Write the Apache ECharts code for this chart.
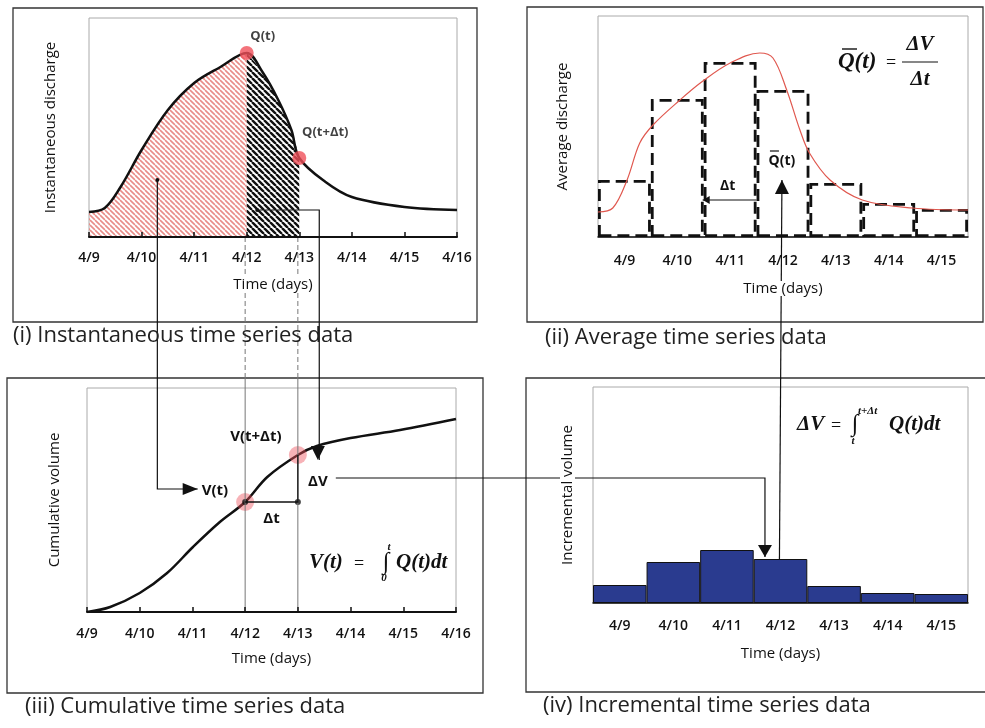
<!DOCTYPE html>
<html>
<head>
<meta charset="utf-8">
<script src="https://cdn.jsdelivr.net/npm/echarts@6/dist/echarts.min.js"></script>
<style>
  html, body { margin: 0; padding: 0; background: #fff; }
  #chart { width: 985px; height: 728px; }
</style>
</head>
<body>
<div id="chart"></div>
<script>
// time axis: days counted from 4/9
const dayCats = ['4/9', '4/10', '4/11', '4/12', '4/13', '4/14', '4/15'];

// (i) instantaneous discharge
const instDays = [0, 0.3, 0.6, 1, 1.5, 2, 2.5, 3, 3.3, 3.6, 3.85, 4, 4.5, 5, 6, 7];
const instQ = [25, 29, 50, 87, 127, 154, 170, 184, 165, 137, 107, 79, 55, 40, 30, 27];
const instMarks = [[3, 184], [4, 79]];

// (ii) average discharge per day + the thin red curve behind it
const avgVals = [57, 138, 175, 147, 54, 34, 28];
const avgCurveDays = [0, 0.28, 0.55, 0.79, 1.04, 1.55, 1.96, 2.5, 3.06, 3.31, 3.57, 3.82, 4.0, 4.39, 5.0, 5.95, 7.0];
const avgCurveVals = [25, 29, 57, 94, 112, 137, 155, 174, 184, 179, 147, 107, 84, 57, 37, 29, 27];

// (iii) cumulative volume
const cumDays = [0, 0.44, 1.0, 1.52, 2.01, 2.52, 3.0, 3.42, 4.0, 4.36, 5.0, 5.94, 7.0];
const cumVals = [0, 5, 19, 39, 65, 90, 110, 135, 157, 166, 174, 182, 193];
const cumMarks = [[3, 110], [4, 157]];

// (iv) incremental volume per day
const incVals = [18, 41, 53, 44, 17, 10, 9];

const instPairs = instDays.map((d, i) => [d, instQ[i]]);
const avgCurve = avgCurveDays.map((d, i) => [d, avgCurveVals[i]]);
const cumPairs = cumDays.map((d, i) => [d, cumVals[i]]);

function hatch(color, gap, width) {
  const c = document.createElement('canvas');
  c.width = gap; c.height = gap;
  const g = c.getContext('2d');
  g.strokeStyle = color;
  g.lineWidth = width;
  g.beginPath();
  for (let k = -1; k <= 1; k++) {
    g.moveTo(k * gap, 0);
    g.lineTo(k * gap + gap, gap);
  }
  g.stroke();
  return c;
}
const redHatch = hatch('#e98c88', 5, 1.6);
const darkHatch = hatch('#111', 6, 2.4);

const FONT = '"Open Sans", "Noto Sans", sans-serif';
const SERIF = '"Liberation Serif", "DejaVu Serif", serif';

function nameStyle() {
  return { fontFamily: FONT, fontSize: 15, color: '#111', backgroundColor: '#fff' };
}
function dayAxis(grid, gap, margin) {
  return {
    type: 'value', gridIndex: grid, min: 0, max: 7, interval: 1,
    name: 'Time (days)', nameLocation: 'middle', nameGap: gap, z: 20,
    nameTextStyle: nameStyle(),
    axisLine: { lineStyle: { color: '#111', width: 2 } },
    axisTick: { inside: true, length: 5, lineStyle: { color: '#111', width: 1.5 } },
    axisLabel: { formatter: v => '4/' + (9 + v), fontFamily: FONT, fontSize: 14, fontWeight: 600, color: '#111', margin: margin },
    splitLine: { show: false }
  };
}
function catAxis(grid, gap, margin) {
  return {
    type: 'category', gridIndex: grid, data: dayCats,
    name: 'Time (days)', nameLocation: 'middle', nameGap: gap, z: 20,
    nameTextStyle: nameStyle(),
    axisLine: { lineStyle: { color: '#111', width: 1.5 } },
    axisTick: { inside: true, length: 5, lineStyle: { color: '#111', width: 1.5 } },
    axisLabel: { fontFamily: FONT, fontSize: 14, fontWeight: 600, color: '#111', margin: margin },
    splitLine: { show: false }
  };
}
function hiddenDays(grid) {
  return { type: 'value', gridIndex: grid, min: 0, max: 7, show: false };
}
function vAxis(grid, max, name, gap) {
  return {
    type: 'value', gridIndex: grid, min: 0, max: max,
    name: name, nameLocation: 'middle', nameGap: gap, z: 20,
    nameTextStyle: nameStyle(),
    axisLine: { show: false }, axisTick: { show: false },
    axisLabel: { show: false }, splitLine: { show: false }
  };
}

const gridStyle = { show: true, borderColor: '#aaa', borderWidth: 1 };

const chart = echarts.init(document.getElementById('chart'));

chart.setOption({
  animation: false,
  backgroundColor: '#fff',
  grid: [
    { left: 89, top: 18, width: 368, height: 219, ...gridStyle },
    { left: 598, top: 16, width: 370, height: 221, ...gridStyle },
    { left: 87, top: 388, width: 369, height: 224, ...gridStyle },
    { left: 593, top: 387, width: 375, height: 216, ...gridStyle }
  ],
  xAxis: [
    dayAxis(0, 40, 14),
    catAxis(1, 44, 17),
    hiddenDays(1),
    dayAxis(2, 39, 15),
    catAxis(3, 43, 16),
    hiddenDays(3)
  ],
  yAxis: [
    vAxis(0, 219, 'Instantaneous discharge', 31),
    vAxis(1, 221, 'Average discharge', 28),
    vAxis(2, 224, 'Cumulative volume', 25),
    vAxis(3, 216, 'Incremental volume', 18)
  ],
  series: [
    {
      type: 'line', xAxisIndex: 0, yAxisIndex: 0, smooth: 0.35, symbol: 'none',
      data: instPairs.filter(p => p[0] <= 3),
      lineStyle: { width: 0 },
      areaStyle: { color: { image: redHatch, repeat: 'repeat' }, opacity: 1 }
    },
    {
      type: 'line', xAxisIndex: 0, yAxisIndex: 0, smooth: 0.35, symbol: 'none',
      data: instPairs.filter(p => p[0] >= 3 && p[0] <= 4),
      lineStyle: { width: 0 },
      areaStyle: { color: { image: darkHatch, repeat: 'repeat' }, opacity: 1 }
    },
    {
      type: 'line', xAxisIndex: 0, yAxisIndex: 0, smooth: 0.35, symbol: 'none',
      data: instPairs, lineStyle: { color: '#111', width: 2.5 }
    },
    {
      type: 'scatter', xAxisIndex: 0, yAxisIndex: 0, symbolSize: 14, z: 5,
      itemStyle: { color: '#f0505a' },
      label: { show: true, position: 'top', fontFamily: FONT, fontSize: 13, fontWeight: 'bold', color: '#111' },
      data: [
        { value: instMarks[0], label: { formatter: 'Q(t)', offset: [16, 2] } },
        { value: instMarks[1], label: { formatter: 'Q(t+Δt)', offset: [26, -7] } }
      ]
    },
    {
      type: 'bar', xAxisIndex: 1, yAxisIndex: 1, barCategoryGap: '0%', data: avgVals,
      itemStyle: { color: 'rgba(0,0,0,0)', borderColor: '#111', borderWidth: 2.8, borderType: [12, 6] }
    },
    {
      type: 'line', xAxisIndex: 2, yAxisIndex: 1, smooth: 0.35, symbol: 'none',
      data: avgCurve, lineStyle: { color: '#e0584f', width: 1.2 }
    },
    {
      type: 'line', xAxisIndex: 3, yAxisIndex: 2, smooth: 0.35, symbol: 'none',
      data: cumPairs, lineStyle: { color: '#111', width: 2.5 }
    },
    {
      type: 'scatter', xAxisIndex: 3, yAxisIndex: 2, symbolSize: 18, z: 4,
      itemStyle: { color: 'rgba(236,80,92,0.55)' }, data: cumMarks
    },
    {
      type: 'scatter', xAxisIndex: 3, yAxisIndex: 2, symbolSize: 6, z: 6,
      itemStyle: { color: '#111' }, data: [cumMarks[0], [cumMarks[1][0], cumMarks[0][1]]]
    },
    {
      type: 'bar', xAxisIndex: 4, yAxisIndex: 3, barCategoryGap: '0%', data: incVals,
      itemStyle: { color: '#2a3b8f', borderColor: '#111', borderWidth: 1 }
    }
  ]
});

// ---- annotations: connectors between panels, labels, formulas ----
const P = (xi, yi, pt) => chart.convertToPixel({ xAxisIndex: xi, yAxisIndex: yi }, pt);
const inI = pt => P(0, 0, pt);
const inII = pt => P(2, 1, pt);
const inIII = pt => P(3, 2, pt);
const inIV = pt => P(5, 3, pt);

function line(pts, extra) {
  return { type: 'polyline', z: 10, silent: true, shape: { points: pts },
    style: Object.assign({ stroke: '#111', lineWidth: 1.2, fill: null }, extra || {}) };
}
function arrow(tip, dir, len, half) {
  const [x, y] = tip;
  const pts = {
    r: [[x, y], [x - len, y - half], [x - len, y + half]],
    l: [[x, y], [x + len, y - half], [x + len, y + half]],
    u: [[x, y], [x - half, y + len], [x + half, y + len]],
    d: [[x, y], [x - half, y - len], [x + half, y - len]]
  }[dir];
  return { type: 'polygon', z: 11, silent: true, shape: { points: pts }, style: { fill: '#111' } };
}
function dot(c, r) {
  return { type: 'circle', z: 11, silent: true, shape: { cx: c[0], cy: c[1], r: r }, style: { fill: '#111' } };
}
function text(x, y, s, font, align, color) {
  return { type: 'text', z: 30, silent: true, x: x, y: y,
    style: { text: s, font: font, fill: color || '#111',
      align: align || 'center', textAlign: align || 'center',
      verticalAlign: 'middle', textVerticalAlign: 'middle' } };
}
function box(x, y, w, h) {
  return { type: 'rect', z: 1, silent: true, shape: { x: x, y: y, width: w, height: h },
    style: { stroke: '#333', lineWidth: 1.3, fill: null } };
}

const els = [];
// panel frames and captions
els.push(box(13, 8, 464, 314), box(527, 7, 456, 315), box(7, 378, 476, 315), box(526, 378, 470, 314));
const capFont = '22px ' + FONT;
els.push(text(13, 336, '(i) Instantaneous time series data', capFont, 'left', '#222'));
els.push(text(545, 338, '(ii) Average time series data', capFont, 'left', '#222'));
els.push(text(25, 707, '(iii) Cumulative time series data', capFont, 'left', '#222'));
els.push(text(543, 706, '(iv) Incremental time series data', capFont, 'left', '#222'));

// vertical guides at t and t+Δt, running from (i) down through (iii)
[3, 4].forEach(d => {
  const x = inIII([d, 0])[0];
  const yTop = inI([d, 0])[1];
  const yMid = 378;
  const yBot = inIII([d, 0])[1];
  els.push(line([[x, yTop], [x, yMid]], { stroke: '#777', lineWidth: 1, lineDash: [5, 3] }));
  els.push(line([[x, yMid], [x, yBot]], { stroke: '#777', lineWidth: 1 }));
});

const lab = 'bold 15px ' + FONT;

// connector: area under curve up to t  ->  V(t)
const aStart = inI([1.3, 57]);
const aBend = inIII([1.3, 123]);
const aTip = inIII([2.1, 123]);
els.push(dot(aStart, 2), line([aStart, [aStart[0], aBend[1]], aTip]), arrow(aTip, 'r', 15, 6));
els.push(text(aTip[0] + 4, aTip[1] + 2, 'V(t)', lab, 'left'));

// connector: area between t and t+Δt  ->  ΔV
const bStart = inI([3.2, 27]);
const bBend = inI([4.38, 27]);
const bTip = inIII([4.38, 152]);
els.push(dot(bStart, 2), line([bStart, bBend, [bBend[0], bTip[1]]]), arrow(bTip, 'd', 14, 7));
els.push(text(bTip[0], bTip[1] + 22, 'ΔV', lab, 'center'));

// Δt step in (iii)
const v0 = inIII(cumMarks[0]);
const v1 = inIII(cumMarks[1]);
els.push(line([v0, [v1[0], v0[1]], v1], { lineWidth: 1.3 }));
els.push(text((v0[0] + v1[0]) / 2, v0[1] + 17, 'Δt', lab, 'center'));
els.push(text(v1[0] - 42, v1[1] - 18, 'V(t+Δt)', lab, 'center'));

// connector: ΔV  ->  incremental bar
const cStart = inIII([4.72, 134]);
const cTip = inIV([3.21, 46]);
els.push(line([cStart, [cTip[0], cStart[1]], cTip]), arrow(cTip, 'd', 12, 7));

// connector: incremental bar  ->  average value Q̄(t)
const dBase = inIV([3.48, 44]);
const dTip = inII([3.48, 57]);
els.push(line([dBase, dTip]), arrow(dTip, 'u', 14, 7));
els.push(text(dTip[0], dTip[1] - 19, 'Q(t)', 'bold 14px ' + FONT, 'center'));
els.push(line([[dTip[0] - 12, dTip[1] - 29], [dTip[0] - 3, dTip[1] - 29]], { lineWidth: 1.2 }));

// Δt span in (ii)
const e0 = inII([1.98, 37]);
const e1 = inII([3.0, 37]);
els.push(line([e0, e1]), arrow(e0, 'l', 7, 4));
els.push(text((e0[0] + e1[0]) / 2 - 2, e0[1] - 14, 'Δt', 'bold 14px ' + FONT, 'center'));

// formulas
const fml = 'bold italic 21px ' + SERIF;
const small = 'bold italic 11px ' + SERIF;
els.push(text(838, 62, 'Q(t)', 'bold italic 23px ' + SERIF, 'left'));
els.push(line([[842, 49], [857, 49]], { lineWidth: 1.4 }));
els.push(text(891, 63, '=', '18px ' + SERIF, 'center'));
els.push(text(920, 45, 'ΔV', fml, 'center'));
els.push(line([[902, 62], [938, 62]], { lineWidth: 1.1 }));
els.push(text(920, 80, 'Δt', fml, 'center'));

els.push(text(797, 425, 'ΔV', fml, 'left'));
els.push(text(836, 426, '=', '18px ' + SERIF, 'center'));
els.push(text(855, 425, '∫', 'italic 24px ' + SERIF, 'center'));
els.push(text(858, 411, 't+Δt', small, 'left'));
els.push(text(853, 441, 't', small, 'center'));
els.push(text(889, 425, 'Q(t)dt', fml, 'left'));

els.push(text(309, 563, 'V(t)', fml, 'left'));
els.push(text(359, 564, '=', '18px ' + SERIF, 'center'));
els.push(text(386, 563, '∫', 'italic 24px ' + SERIF, 'center'));
els.push(text(389, 547, 't', small, 'center'));
els.push(text(384, 578, '0', small, 'center'));
els.push(text(396, 563, 'Q(t)dt', fml, 'left'));

chart.setOption({ graphic: { elements: els } });
</script>
</body>
</html>
